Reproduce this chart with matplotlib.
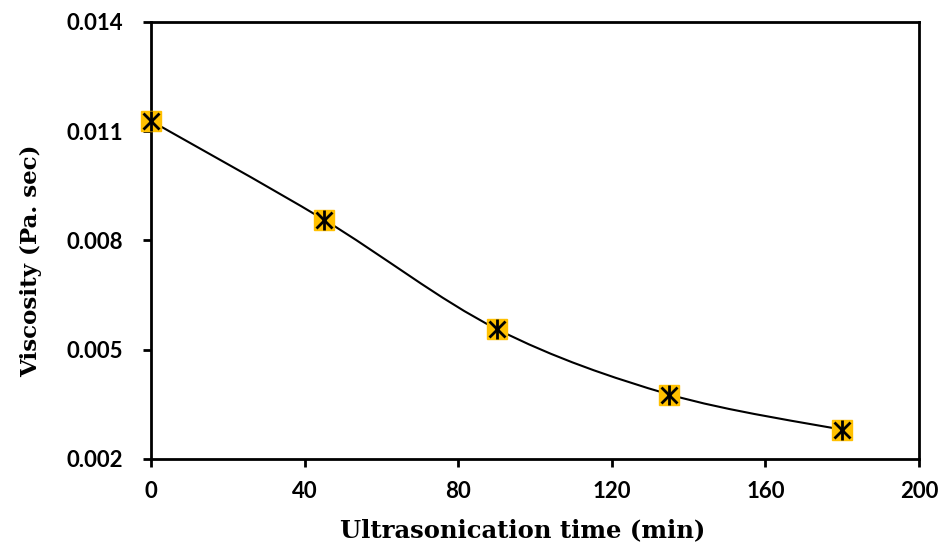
import numpy as np
import matplotlib
matplotlib.use("Agg")
import matplotlib.pyplot as plt
from matplotlib.path import Path
from matplotlib.patches import PathPatch

# data
time_min = [0, 45, 90, 135, 180]
viscosity = [0.01128, 0.00857, 0.00557, 0.00377, 0.00280]

x_ticks = [0, 40, 80, 120, 160, 200]
y_ticks = [0.002, 0.005, 0.008, 0.011, 0.014]


def smooth_path(xs, ys, k=1 / 6):
    # excel-like smoothed line: cubic bezier through the points (catmull-rom control points)
    xs = np.asarray(xs, float)
    ys = np.asarray(ys, float)
    verts = [(xs[0], ys[0])]
    codes = [Path.MOVETO]
    n = len(xs)
    for i in range(n - 1):
        i0 = max(i - 1, 0)
        i3 = min(i + 2, n - 1)
        c1 = (xs[i] + (xs[i + 1] - xs[i0]) * k, ys[i] + (ys[i + 1] - ys[i0]) * k)
        c2 = (xs[i + 1] - (xs[i3] - xs[i]) * k, ys[i + 1] - (ys[i3] - ys[i]) * k)
        verts += [c1, c2, (xs[i + 1], ys[i + 1])]
        codes += [Path.CURVE4] * 3
    return Path(verts, codes)


fig = plt.figure(figsize=(9.45, 5.5), dpi=100)
ax = fig.add_axes([0.160, 0.1655, 0.8125, 0.7945])

ax.add_patch(PathPatch(smooth_path(time_min, viscosity), facecolor="none",
                       edgecolor="black", lw=1.5, zorder=2))
ax.plot(time_min, viscosity, ls="none", marker="s", ms=14, mfc="#FFC000",
        mec="#FFC000", zorder=3, clip_on=False)
ax.plot(time_min, viscosity, ls="none", marker="x", ms=12, mew=2, color="black",
        zorder=4, clip_on=False)
ax.plot(time_min, viscosity, ls="none", marker="|", ms=15, mew=2, color="black",
        zorder=4, clip_on=False)

ax.set_xlim(0, 200)
ax.set_ylim(0.002, 0.014)
ax.set_xticks(x_ticks)
ax.set_yticks(y_ticks)
ax.set_xticklabels([str(v) for v in x_ticks])
ax.set_yticklabels([f"{v:.3f}" for v in y_ticks])

for s in ax.spines.values():
    s.set_linewidth(2)
    s.set_color("black")
ax.tick_params(direction="out", length=6, width=2)
ax.tick_params(axis="y", pad=14)
ax.tick_params(axis="x", pad=10)
for lab in ax.get_xticklabels() + ax.get_yticklabels():
    lab.set_family("Lato")
    lab.set_fontweight("bold")
    lab.set_fontsize(16)

ax.set_xlabel("Ultrasonication time (min)", family="DejaVu Serif",
              fontweight="bold", fontsize=17.5)
ax.set_ylabel("Viscosity (Pa. sec)", family="DejaVu Serif",
              fontweight="bold", fontsize=16.5)
ax.xaxis.set_label_coords(0.484, -0.135)
ax.yaxis.set_label_coords(-0.142, 0.453)

fig.savefig("out.png", dpi=100)
